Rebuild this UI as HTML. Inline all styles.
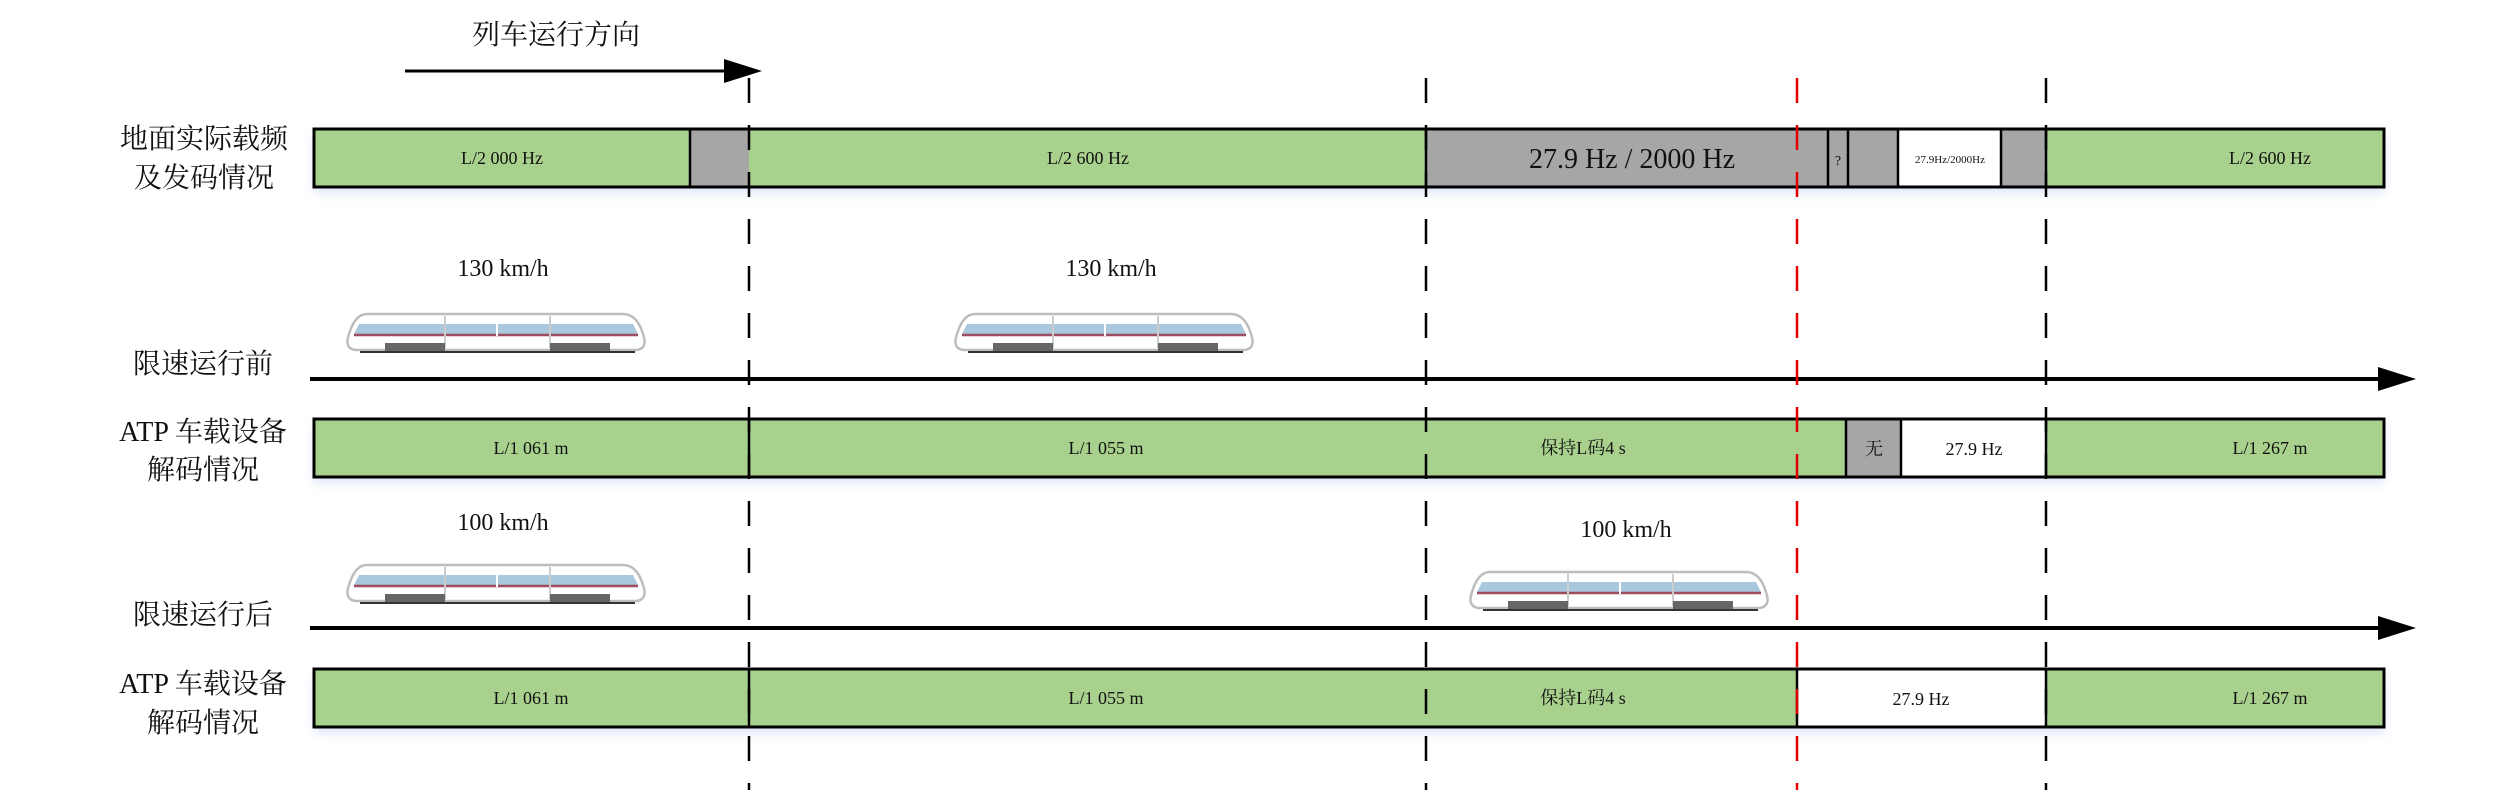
<!DOCTYPE html>
<html><head><meta charset="utf-8"><style>
html,body{margin:0;padding:0;background:#fff;}
svg{display:block;}
text{font-family:"Liberation Serif","Noto Serif CJK SC",serif;fill:#111;}
.lab{font-family:"Liberation Serif","Noto Serif CJK SC",serif;font-size:28px;}
.t{font-size:18px;}
</style></head><body>
<svg width="2520" height="794" viewBox="0 0 2520 794" xmlns="http://www.w3.org/2000/svg">
<defs>
<filter id="sh" x="-5%" y="-20%" width="110%" height="160%"><feDropShadow dx="0" dy="6" stdDeviation="5" flood-color="#9fb6ef" flood-opacity="0.35"/></filter>
<g id="train">
<path d="M22,12 L278,12 Q292,12 298,32 Q303,46 292,48 L10,48 Q-1,46 4,32 Q10,12 22,12Z" fill="#fff" stroke="#bdbdbd" stroke-width="2.5"/>
<path d="M14,22 L288,22 L293,32 L9,32Z" fill="#a9c8de"/>
<line x1="9" y1="33" x2="293" y2="33" stroke="#9e4d5e" stroke-width="2.5"/>
<line x1="100" y1="14" x2="100" y2="46" stroke="#ccc" stroke-width="2"/>
<line x1="205" y1="14" x2="205" y2="46" stroke="#ccc" stroke-width="2"/>
<line x1="152" y1="20" x2="152" y2="34" stroke="#fff" stroke-width="2"/>
<rect x="40" y="41" width="60" height="8" fill="#666"/>
<rect x="205" y="41" width="60" height="8" fill="#666"/>
<line x1="15" y1="50" x2="290" y2="50" stroke="#333" stroke-width="2"/>
</g>
</defs>

<!-- direction arrow -->
<text x="556" y="44" text-anchor="middle" class="lab" font-size="26">列车运行方向</text>
<line x1="405" y1="71" x2="730" y2="71" stroke="#000" stroke-width="3"/>
<polygon points="724,59 762,71 724,83" fill="#000"/>

<!-- left labels -->
<text x="204" y="148" text-anchor="middle" class="lab">地面实际载频</text>
<text x="204" y="187" text-anchor="middle" class="lab">及发码情况</text>
<text x="203" y="373" text-anchor="middle" class="lab">限速运行前</text>
<text x="203" y="441" text-anchor="middle" class="lab">ATP 车载设备</text>
<text x="203" y="479" text-anchor="middle" class="lab">解码情况</text>
<text x="203" y="624" text-anchor="middle" class="lab">限速运行后</text>
<text x="203" y="693" text-anchor="middle" class="lab">ATP 车载设备</text>
<text x="203" y="732" text-anchor="middle" class="lab">解码情况</text>

<!-- bar 1 -->
<g filter="url(#sh)">
<rect x="314" y="129" width="2070" height="58" fill="#a9d18e"/>
</g>
<rect x="690" y="129" width="59" height="58" fill="#a6a6a6"/>
<rect x="1426" y="129" width="475" height="58" fill="#a6a6a6"/>
<rect x="1898" y="129" width="103" height="58" fill="#fff"/>
<rect x="2001" y="129" width="45" height="58" fill="#a6a6a6"/>
<rect x="314" y="129" width="2070" height="58" fill="none" stroke="#000" stroke-width="3"/>
<g stroke="#000" stroke-width="2.5">
<line x1="690" y1="129" x2="690" y2="187"/><line x1="1426" y1="129" x2="1426" y2="187"/>
<line x1="1828" y1="129" x2="1828" y2="187"/><line x1="1848" y1="129" x2="1848" y2="187"/>
<line x1="1898" y1="129" x2="1898" y2="187"/><line x1="2001" y1="129" x2="2001" y2="187"/>
<line x1="2046" y1="129" x2="2046" y2="187"/>
</g>
<text x="502" y="164" text-anchor="middle" class="t">L/2 000 Hz</text>
<text x="1088" y="164" text-anchor="middle" class="t">L/2 600 Hz</text>
<text x="1632" y="168" text-anchor="middle" font-size="28">27.9 Hz / 2000 Hz</text>
<text x="1838" y="165" text-anchor="middle" font-size="14">?</text>
<text x="1950" y="163" text-anchor="middle" font-size="11">27.9Hz/2000Hz</text>
<text x="2270" y="164" text-anchor="middle" class="t">L/2 600 Hz</text>

<!-- trains row 1 -->
<text x="503" y="276" text-anchor="middle" font-size="24">130 km/h</text>
<text x="1111" y="276" text-anchor="middle" font-size="24">130 km/h</text>
<use href="#train" x="345" y="302"/>
<use href="#train" x="953" y="302"/>

<!-- axis 1 -->
<line x1="310" y1="379" x2="2385" y2="379" stroke="#000" stroke-width="4"/>
<polygon points="2378,367 2416,379 2378,391" fill="#000"/>

<!-- bar 2 -->
<g filter="url(#sh)"><rect x="314" y="419" width="2070" height="58" fill="#a9d18e"/></g>
<rect x="1846" y="419" width="55" height="58" fill="#a6a6a6"/>
<rect x="1901" y="419" width="145" height="58" fill="#fff"/>
<rect x="314" y="419" width="2070" height="58" fill="none" stroke="#000" stroke-width="3"/>
<g stroke="#000" stroke-width="2.5">
<line x1="749" y1="419" x2="749" y2="477"/><line x1="1846" y1="419" x2="1846" y2="477"/>
<line x1="1901" y1="419" x2="1901" y2="477"/><line x1="2046" y1="419" x2="2046" y2="477"/>
</g>
<text x="531" y="454" text-anchor="middle" class="t">L/1 061 m</text>
<text x="1106" y="454" text-anchor="middle" class="t">L/1 055 m</text>
<text x="1583" y="454" text-anchor="middle" class="t">保持L码4 s</text>
<text x="1874" y="455" text-anchor="middle" class="t">无</text>
<text x="1974" y="455" text-anchor="middle" class="t">27.9 Hz</text>
<text x="2270" y="454" text-anchor="middle" class="t">L/1 267 m</text>

<!-- trains row 2 -->
<text x="503" y="530" text-anchor="middle" font-size="24">100 km/h</text>
<text x="1626" y="537" text-anchor="middle" font-size="24">100 km/h</text>
<use href="#train" x="345" y="553"/>
<use href="#train" x="1468" y="560"/>

<!-- axis 2 -->
<line x1="310" y1="628" x2="2385" y2="628" stroke="#000" stroke-width="4"/>
<polygon points="2378,616 2416,628 2378,640" fill="#000"/>

<!-- bar 3 -->
<g filter="url(#sh)"><rect x="314" y="669" width="2070" height="58" fill="#a9d18e"/></g>
<rect x="1797" y="669" width="249" height="58" fill="#fff"/>
<rect x="314" y="669" width="2070" height="58" fill="none" stroke="#000" stroke-width="3"/>
<g stroke="#000" stroke-width="2.5">
<line x1="749" y1="669" x2="749" y2="727"/><line x1="1797" y1="669" x2="1797" y2="727"/>
<line x1="2046" y1="669" x2="2046" y2="727"/>
</g>
<text x="531" y="704" text-anchor="middle" class="t">L/1 061 m</text>
<text x="1106" y="704" text-anchor="middle" class="t">L/1 055 m</text>
<text x="1583" y="704" text-anchor="middle" class="t">保持L码4 s</text>
<text x="1921" y="705" text-anchor="middle" class="t">27.9 Hz</text>
<text x="2270" y="704" text-anchor="middle" class="t">L/1 267 m</text>

<!-- dashed verticals -->
<g stroke-width="2.5" stroke-dasharray="25,22" fill="none">
<line x1="749" y1="78" x2="749" y2="790" stroke="#000"/>
<line x1="1426" y1="78" x2="1426" y2="790" stroke="#000"/>
<line x1="2046" y1="78" x2="2046" y2="790" stroke="#000"/>
<line x1="1797" y1="78" x2="1797" y2="790" stroke="#e00000"/>
</g>
</svg>
</body></html>
